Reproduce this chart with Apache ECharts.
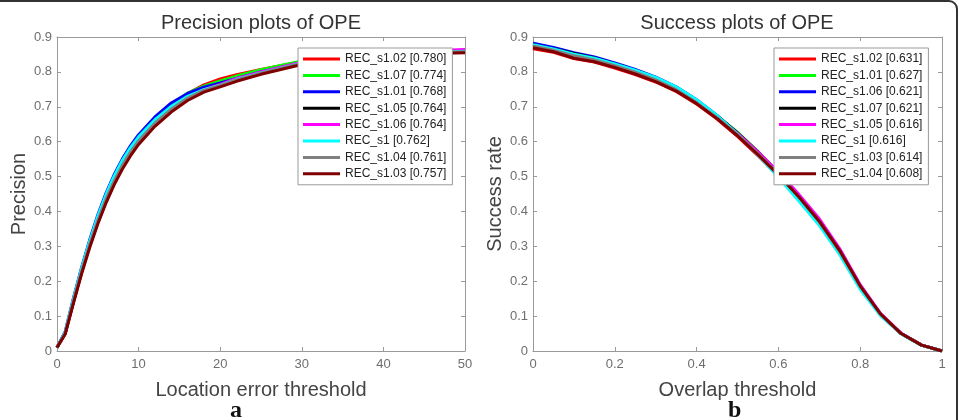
<!DOCTYPE html>
<html>
<head>
  <meta charset="UTF-8">
  <script src="https://cdn.jsdelivr.net/npm/echarts@6/dist/echarts.min.js"></script>
  <style>
    html, body { margin: 0; padding: 0; background: #fff; }
    #main { width: 959px; height: 420px; }
  </style>
</head>
<body>
<div id="main"></div>
<script>
// ---- precision plot (location error threshold) ----
var precX = [0, 1, 2, 3, 4, 5, 6, 7, 8, 9, 10, 12, 14, 16, 18, 20, 22, 25, 30, 35, 40, 45, 50];
var precNames = ['REC_s1.02 [0.780]', 'REC_s1.07 [0.774]', 'REC_s1.01 [0.768]', 'REC_s1.05 [0.764]',
                 'REC_s1.06 [0.764]', 'REC_s1 [0.762]', 'REC_s1.04 [0.761]', 'REC_s1.03 [0.757]'];
var prec_s102 = [0.01, 0.050, 0.140, 0.226, 0.303, 0.372, 0.433, 0.486, 0.533, 0.573, 0.607, 0.660, 0.704, 0.738, 0.763, 0.780, 0.792, 0.807, 0.829, 0.842, 0.851, 0.857, 0.861];
var prec_s107 = [0.01, 0.053, 0.147, 0.234, 0.313, 0.384, 0.446, 0.499, 0.545, 0.583, 0.615, 0.667, 0.708, 0.739, 0.759, 0.774, 0.788, 0.806, 0.831, 0.844, 0.852, 0.857, 0.860];
var prec_s101 = [0.01, 0.055, 0.150, 0.238, 0.318, 0.390, 0.452, 0.505, 0.550, 0.588, 0.620, 0.671, 0.711, 0.738, 0.756, 0.768, 0.781, 0.800, 0.826, 0.841, 0.850, 0.856, 0.860];
var prec_s105 = [0.01, 0.050, 0.139, 0.224, 0.300, 0.368, 0.428, 0.480, 0.525, 0.563, 0.596, 0.648, 0.690, 0.724, 0.748, 0.764, 0.779, 0.797, 0.824, 0.839, 0.849, 0.855, 0.858];
var prec_s106 = [0.01, 0.052, 0.144, 0.231, 0.309, 0.379, 0.440, 0.492, 0.537, 0.575, 0.607, 0.657, 0.696, 0.727, 0.749, 0.764, 0.781, 0.800, 0.828, 0.844, 0.854, 0.860, 0.864];
var prec_s1   = [0.01, 0.054, 0.148, 0.236, 0.315, 0.386, 0.448, 0.501, 0.546, 0.583, 0.614, 0.663, 0.701, 0.730, 0.749, 0.762, 0.778, 0.797, 0.825, 0.840, 0.850, 0.856, 0.859];
var prec_s104 = [0.01, 0.051, 0.142, 0.228, 0.305, 0.374, 0.435, 0.487, 0.532, 0.570, 0.602, 0.653, 0.693, 0.725, 0.747, 0.761, 0.777, 0.796, 0.824, 0.839, 0.849, 0.855, 0.858];
var prec_s103 = [0.01, 0.048, 0.136, 0.220, 0.296, 0.364, 0.424, 0.476, 0.521, 0.559, 0.592, 0.644, 0.685, 0.718, 0.742, 0.757, 0.773, 0.793, 0.821, 0.836, 0.846, 0.852, 0.855];

// ---- success plot (overlap threshold) ----
var succX = [0, 0.05, 0.1, 0.15, 0.2, 0.25, 0.3, 0.35, 0.4, 0.45, 0.5, 0.55, 0.6, 0.65, 0.7, 0.75, 0.8, 0.85, 0.9, 0.95, 1];
var succNames = ['REC_s1.02 [0.631]', 'REC_s1.01 [0.627]', 'REC_s1.06 [0.621]', 'REC_s1.07 [0.621]',
                 'REC_s1.05 [0.616]', 'REC_s1 [0.616]', 'REC_s1.03 [0.614]', 'REC_s1.04 [0.608]'];
var succ_s102 = [0.866, 0.856, 0.838, 0.828, 0.811, 0.792, 0.771, 0.744, 0.708, 0.665, 0.615, 0.560, 0.502, 0.438, 0.368, 0.284, 0.183, 0.104, 0.050, 0.017, 0];
var succ_s101 = [0.876, 0.864, 0.850, 0.837, 0.821, 0.802, 0.781, 0.753, 0.716, 0.674, 0.627, 0.572, 0.510, 0.444, 0.372, 0.286, 0.185, 0.105, 0.050, 0.017, 0];
var succ_s106 = [0.882, 0.870, 0.855, 0.843, 0.826, 0.807, 0.785, 0.757, 0.720, 0.675, 0.624, 0.567, 0.505, 0.440, 0.368, 0.283, 0.183, 0.104, 0.050, 0.017, 0];
var succ_s107 = [0.878, 0.866, 0.853, 0.840, 0.823, 0.804, 0.782, 0.754, 0.717, 0.673, 0.625, 0.571, 0.510, 0.443, 0.372, 0.287, 0.186, 0.105, 0.050, 0.017, 0];
var succ_s105 = [0.872, 0.861, 0.846, 0.834, 0.818, 0.799, 0.777, 0.750, 0.714, 0.672, 0.624, 0.571, 0.513, 0.449, 0.379, 0.293, 0.190, 0.107, 0.051, 0.017, 0];
var succ_s1   = [0.878, 0.866, 0.851, 0.839, 0.823, 0.805, 0.784, 0.757, 0.720, 0.675, 0.622, 0.562, 0.498, 0.430, 0.360, 0.276, 0.177, 0.101, 0.049, 0.016, 0];
var succ_s103 = [0.874, 0.862, 0.846, 0.834, 0.818, 0.799, 0.777, 0.749, 0.712, 0.669, 0.620, 0.566, 0.506, 0.441, 0.370, 0.285, 0.185, 0.105, 0.050, 0.017, 0];
var succ_s104 = [0.869, 0.858, 0.839, 0.829, 0.813, 0.794, 0.772, 0.745, 0.709, 0.666, 0.617, 0.563, 0.505, 0.442, 0.372, 0.288, 0.187, 0.106, 0.050, 0.017, 0];

var precColors = ['#ff0000', '#00ff00', '#0000ff', '#000000', '#ff00ff', '#00ffff', '#808080', '#800000'];
var succColors = ['#ff0000', '#00ff00', '#0000ff', '#000000', '#ff00ff', '#00ffff', '#808080', '#800000'];

var precData = [prec_s102, prec_s107, prec_s101, prec_s105, prec_s106, prec_s1, prec_s104, prec_s103];
var succData = [succ_s102, succ_s101, succ_s106, succ_s107, succ_s105, succ_s1, succ_s103, succ_s104];

var FONT = 'Liberation Sans, Arial, sans-serif';
var axisCol = '#9a9a9a';
var labelCol = '#6e6e6e';

function pairs(xs, ys) {
  return xs.map(function (x, i) { return [x, ys[i]]; });
}

function xAx(grid, max, interval, pos, name) {
  return {
    type: 'value', gridIndex: grid, min: 0, max: max, interval: interval, position: pos,
    name: name, nameLocation: 'middle', nameGap: 29,
    nameTextStyle: { fontSize: 20, color: '#444', fontFamily: FONT },
    axisLine: { show: true, onZero: false, lineStyle: { color: axisCol, width: 1 } },
    axisTick: { show: true, inside: true, length: 4, lineStyle: { color: axisCol } },
    axisLabel: { show: pos === 'bottom', color: labelCol, fontSize: 13, fontFamily: FONT, margin: 7,
                 formatter: function (v) { return String(+v.toFixed(2)); } },
    splitLine: { show: false }
  };
}

function yAx(grid, pos, name) {
  return {
    type: 'value', gridIndex: grid, min: 0, max: 0.9, interval: 0.1, position: pos,
    name: name, nameLocation: 'middle', nameGap: 28,
    nameTextStyle: { fontSize: 20, color: '#444', fontFamily: FONT },
    axisLine: { show: true, onZero: false, lineStyle: { color: axisCol, width: 1 } },
    axisTick: { show: true, inside: true, length: 4, lineStyle: { color: axisCol } },
    axisLabel: { show: pos === 'left', color: labelCol, fontSize: 13, fontFamily: FONT, margin: 5,
                 formatter: function (v) { return String(+v.toFixed(1)); } },
    splitLine: { show: false }
  };
}

var series = [];
precNames.forEach(function (n, i) {
  series.push({ name: n, type: 'line', xAxisIndex: 0, yAxisIndex: 0, symbol: 'none',
    data: pairs(precX, precData[i]), lineStyle: { color: precColors[i], width: 3 },
    itemStyle: { color: precColors[i] } });
});
succNames.forEach(function (n, i) {
  series.push({ name: n, type: 'line', xAxisIndex: 2, yAxisIndex: 2, symbol: 'none',
    data: pairs(succX, succData[i]), lineStyle: { color: succColors[i], width: 3 },
    itemStyle: { color: succColors[i] } });
});

function legend(left, names) {
  return {
    orient: 'vertical', left: left, top: 48, data: names,
    icon: 'rect', itemWidth: 37, itemHeight: 3, itemGap: 2.4,
    padding: [4, 6, 4, 5],
    backgroundColor: '#fff', borderColor: '#999', borderWidth: 1,
    textStyle: { fontSize: 12, color: '#222', fontFamily: FONT, lineHeight: 14 }
  };
}

var chart = echarts.init(document.getElementById('main'));
chart.setOption({
  animation: false,
  backgroundColor: '#fff',
  title: [
    { text: 'Precision plots of OPE', left: 261, top: 13, textAlign: 'center', padding: 0,
      textStyle: { fontSize: 20, fontWeight: 'normal', color: '#333', fontFamily: FONT } },
    { text: 'Success plots of OPE', left: 737, top: 13, textAlign: 'center', padding: 0,
      textStyle: { fontSize: 20, fontWeight: 'normal', color: '#333', fontFamily: FONT } }
  ],
  grid: [
    { left: 57, right: 494, top: 37, bottom: 69 },
    { left: 533, right: 17, top: 37, bottom: 69 }
  ],
  xAxis: [
    xAx(0, 50, 10, 'bottom', 'Location error threshold'),
    xAx(0, 50, 10, 'top', ''),
    xAx(1, 1, 0.2, 'bottom', 'Overlap threshold'),
    xAx(1, 1, 0.2, 'top', '')
  ],
  yAxis: [
    yAx(0, 'left', 'Precision'),
    yAx(0, 'right', ''),
    yAx(1, 'left', 'Success rate'),
    yAx(1, 'right', '')
  ],
  legend: [legend(298, precNames), legend(774, succNames)],
  graphic: [
    { type: 'rect', silent: true, z: -1,
      shape: { x: -10, y: 1, width: 967, height: 460, r: 8 },
      style: { fill: 'none', stroke: '#333', lineWidth: 2 } },
    { type: 'text', left: 230, top: 399,
      style: { text: 'a', fontSize: 24, fontWeight: 'bold', fontFamily: 'Liberation Serif, serif', fill: '#111' } },
    { type: 'text', left: 728, top: 399,
      style: { text: 'b', fontSize: 24, fontWeight: 'bold', fontFamily: 'Liberation Serif, serif', fill: '#111' } }
  ],
  series: series
});
</script>
</body>
</html>
